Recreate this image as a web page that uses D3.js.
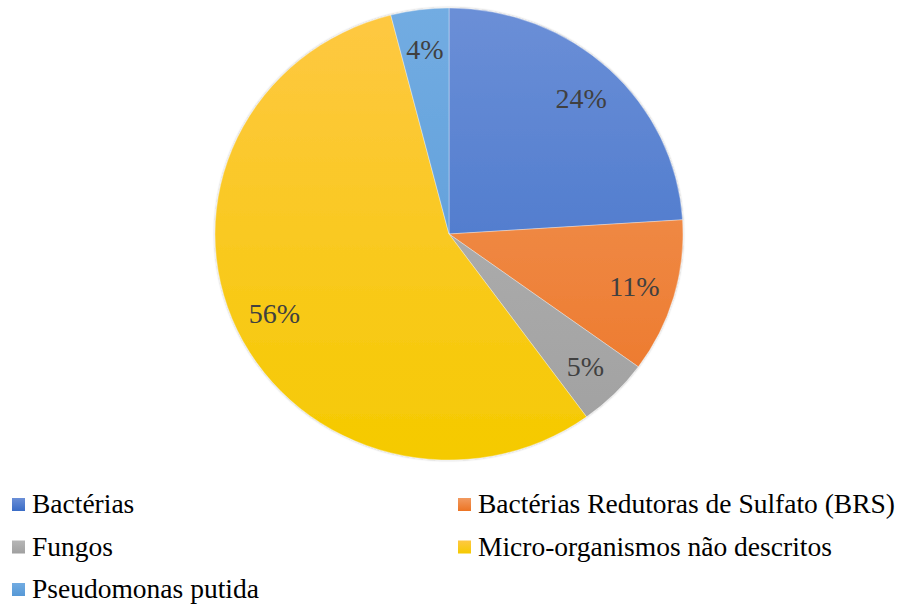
<!DOCTYPE html>
<html>
<head>
<meta charset="utf-8">
<script src="https://cdn.jsdelivr.net/npm/d3@7"></script>
<style>
  body { margin: 0; background: #fff; }
  svg { display: block; }
</style>
</head>
<body>
<svg id="chart" width="900" height="608"></svg>
<script>
let categories = ['Bactérias', 'Bactérias Redutoras de Sulfato (BRS)', 'Fungos', 'Micro-organismos não descritos', 'Pseudomonas putida'];
let values = [24, 11, 5, 56, 4];
let labels = ['24%', '11%', '5%', '56%', '4%'];
let colorsTop = ['#6b8fd7', '#f29a60', '#b6b6b6', '#fec843', '#72ace2'];
let colorsBottom = ['#3a6cc6', '#ec7424', '#a0a0a0', '#f5ca00', '#5698d6'];

let svg = d3.select('#chart');
let cx = 449, cy = 234, r = 234, ry = 226;
let sy = ry / r;
let serif = 'Liberation Serif, Times New Roman, serif';

let defs = svg.append('defs');
colorsTop.forEach((c, i) => {
    let grad = defs.append('linearGradient')
        .attr('id', 'g' + i)
        .attr('gradientUnits', 'userSpaceOnUse')
        .attr('x1', 0).attr('y1', -r)
        .attr('x2', 0).attr('y2', r);
    grad.append('stop').attr('offset', '0%').attr('stop-color', c);
    grad.append('stop').attr('offset', '100%').attr('stop-color', colorsBottom[i]);

    let lg = defs.append('linearGradient')
        .attr('id', 'lg' + i)
        .attr('x1', 0).attr('y1', 0).attr('x2', 0).attr('y2', 1);
    lg.append('stop').attr('offset', '0%').attr('stop-color', c);
    lg.append('stop').attr('offset', '100%').attr('stop-color', colorsBottom[i]);
});

let shadow = defs.append('filter').attr('id', 'shadow')
    .attr('x', '-5%').attr('y', '-5%').attr('width', '110%').attr('height', '110%');
shadow.append('feDropShadow')
    .attr('dx', 0).attr('dy', 0).attr('stdDeviation', 1.2)
    .attr('flood-color', '#000').attr('flood-opacity', 0.35);

let pie = d3.pie().sort(null).value(d => d);
let arcs = pie(values);
let arc = d3.arc().innerRadius(0).outerRadius(r);
let labelArc = d3.arc().innerRadius(193).outerRadius(193);

let g = svg.append('g')
    .attr('transform', `translate(${cx},${cy}) scale(1,${sy})`)
    .attr('filter', 'url(#shadow)');

g.selectAll('path')
    .data(arcs)
    .enter().append('path')
    .attr('d', arc)
    .attr('fill', (d, i) => `url(#g${i})`)
    .attr('stroke', '#ffffff')
    .attr('stroke-opacity', 0.6)
    .attr('stroke-width', 0.6);

svg.append('g')
    .selectAll('text')
    .data(arcs)
    .enter().append('text')
    .attr('x', d => cx + labelArc.centroid(d)[0])
    .attr('y', d => cy + labelArc.centroid(d)[1] * sy)
    .attr('dy', '0.35em')
    .attr('text-anchor', 'middle')
    .style('font-family', serif)
    .attr('font-size', 28)
    .attr('fill', '#404040')
    .text((d, i) => labels[i]);

// legend, two columns
let legend = svg.append('g')
    .style('font-family', serif)
    .attr('font-size', 27.5)
    .attr('fill', '#000');

categories.forEach((name, i) => {
    let col = i % 2, row = Math.floor(i / 2);
    let x = col === 0 ? 12 : 458;
    let y = 513 + row * 42.5;
    let item = legend.append('g');
    item.append('rect')
        .attr('x', x).attr('y', y - 15)
        .attr('width', 13).attr('height', 13)
        .attr('fill', `url(#lg${i})`);
    item.append('text')
        .attr('x', x + 20).attr('y', y)
        .text(name);
});
</script>
</body>
</html>
